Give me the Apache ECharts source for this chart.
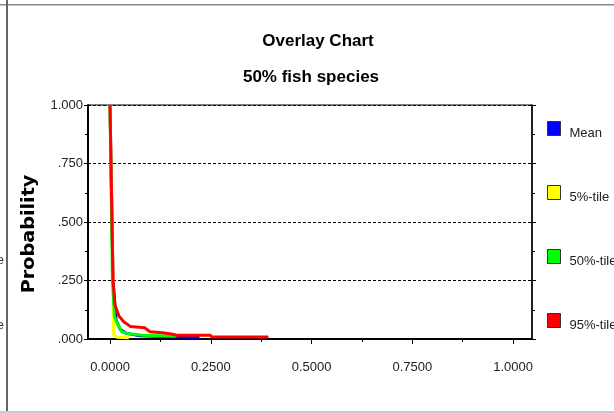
<!DOCTYPE html>
<html>
<head>
<meta charset="utf-8">
<script src="https://cdn.jsdelivr.net/npm/echarts@6/dist/echarts.min.js"></script>
<style>
html,body{margin:0;padding:0;background:#fff;}
#chart{width:614px;height:413px;}
</style>
</head>
<body>
<div id="chart"></div>
<script>
// ---- data ----
const seriesNames = ['Mean', '5%-tile', '50%-tile', '95%-tile'];
const seriesColors = ['#0000ff', '#ffff00', '#00ff00', '#ff0000'];
const meanData = [[0,1.0],[0.0075,0.25],[0.015,0.082],[0.025,0.042],[0.041,0.024],[0.074,0.014],[0.15,0.010],[0.222,0.008]];
const p5Data   = [[0,1.0],[0.0075,0.25],[0.009,0.017],[0.017,0.008],[0.047,0.005]];
const p50Data  = [[0,1.0],[0.006,0.25],[0.011,0.096],[0.018,0.067],[0.029,0.031],[0.047,0.022],[0.08,0.016],[0.165,0.012]];
const p95Data  = [[0,1.0],[0.0075,0.25],[0.012,0.146],[0.022,0.099],[0.034,0.074],[0.051,0.053],[0.086,0.048],[0.099,0.031],[0.13,0.027],[0.156,0.020],[0.165,0.016],[0.248,0.016],[0.253,0.009],[0.393,0.009]];
const xMajorTicks = [0, 0.25, 0.5, 0.75, 1];
const xMinorTicks = [0.125, 0.375, 0.625, 0.875];
const yTickInterval = 0.25;
const titleText = 'Overlay Chart';
const subtitleText = '50% fish species';
const yAxisTitle = 'Probability';

const allData = [meanData, p5Data, p50Data, p95Data];
const XMIN = -0.0546, XMAX = 1.047;
const FONT = 'Liberation Sans, Arial, sans-serif';

const chart = echarts.init(document.getElementById('chart'));
const option = {
  animation: false,
  backgroundColor: '#ffffff',
  grid: { left: 88, right: 82, top: 105, bottom: 74, show: true, borderColor: '#000', borderWidth: 1, backgroundColor: 'transparent' },
  legend: {
    orient: 'vertical', left: 547, top: 121, padding: 0, itemWidth: 13, itemHeight: 14, itemGap: 45,
    icon: 'rect',
    itemStyle: { borderColor: '#333', borderWidth: 1 },
    formatter: n => '{t|' + n + '}',
    textStyle: { fontSize: 13, color: '#222', fontFamily: FONT,
      rich: { t: { fontSize: 13, color: '#222', fontFamily: FONT, padding: [10, 0, 0, 4] } } },
    data: seriesNames
  },
  xAxis: [
    {
      type: 'value', min: XMIN, max: XMAX, position: 'bottom',
      axisLine: { show: true, onZero: false, lineStyle: { color: '#000', width: 2 } },
      axisTick: { show: true, customValues: xMajorTicks, length: 5, lineStyle: { color: '#000' } },
      axisLabel: { customValues: xMajorTicks, formatter: v => v.toFixed(4), margin: 22, fontSize: 13, color: '#222', fontFamily: FONT },
      splitLine: { show: false }
    },
    {
      type: 'value', min: XMIN, max: XMAX, position: 'bottom',
      axisLine: { show: false, onZero: false },
      axisTick: { show: true, customValues: xMinorTicks, length: 3, lineStyle: { color: '#000' } },
      axisLabel: { show: false },
      splitLine: { show: false }
    }
  ],
  yAxis: [
    {
      type: 'value', min: 0, max: 1, interval: yTickInterval, position: 'left',
      axisLine: { show: true, onZero: false, lineStyle: { color: '#000', width: 2 } },
      axisTick: { show: true, length: 4, lineStyle: { color: '#000' } },
      minorTick: { show: true, splitNumber: 2, length: 3, lineStyle: { color: '#000' } },
      axisLabel: { margin: 5, fontSize: 13, color: '#222', fontFamily: FONT,
        formatter: v => v >= 1 ? v.toFixed(3) : v.toFixed(3).replace(/^0/, '') },
      splitLine: { show: true, lineStyle: { color: '#000', width: 1, type: [3, 2] } }
    },
    {
      type: 'value', min: 0, max: 1, interval: yTickInterval, position: 'right',
      axisLine: { show: true, onZero: false, lineStyle: { color: '#000', width: 1.5 } },
      axisTick: { show: true, length: 4, lineStyle: { color: '#000' } },
      minorTick: { show: true, splitNumber: 2, length: 3, lineStyle: { color: '#000' } },
      axisLabel: { show: false },
      splitLine: { show: false }
    }
  ],
  series: seriesNames.map((name, i) => ({
    name: name, type: 'line', data: allData[i], showSymbol: false, symbol: 'none',
    xAxisIndex: 0, yAxisIndex: 0,
    lineStyle: { color: seriesColors[i], width: 3 },
    itemStyle: { color: seriesColors[i] },
    z: 2 + i
  })),
  graphic: [
    { type: 'rect', shape: { x: 0, y: 4, width: 614, height: 1.5 }, style: { fill: '#8a8a8a' }, silent: true },
    { type: 'rect', shape: { x: 6, y: 0, width: 2, height: 413 }, style: { fill: '#666' }, silent: true },
    { type: 'rect', shape: { x: 0, y: 411, width: 614, height: 2 }, style: { fill: '#c8c8c8' }, silent: true },
    { type: 'text', x: 318, y: 41, style: { text: titleText, font: 'bold 17px ' + FONT, fill: '#000', align: 'center', verticalAlign: 'middle' } },
    { type: 'text', x: 311, y: 77, style: { text: subtitleText, font: 'bold 17px ' + FONT, fill: '#000', align: 'center', verticalAlign: 'middle' } },
    { type: 'text', x: 30, y: 234, rotation: Math.PI / 2, scaleX: 1.13, style: { text: yAxisTitle, font: 'bold 17px DejaVu Sans, sans-serif', fill: '#000', align: 'center', verticalAlign: 'middle' } },
    { type: 'text', x: 4, y: 260, style: { text: 'e', font: '13px ' + FONT, fill: '#333', align: 'right', verticalAlign: 'middle' } },
    { type: 'text', x: 4, y: 325, style: { text: 'e', font: '13px ' + FONT, fill: '#333', align: 'right', verticalAlign: 'middle' } }
  ]
};
chart.setOption(option);
</script>
</body>
</html>
